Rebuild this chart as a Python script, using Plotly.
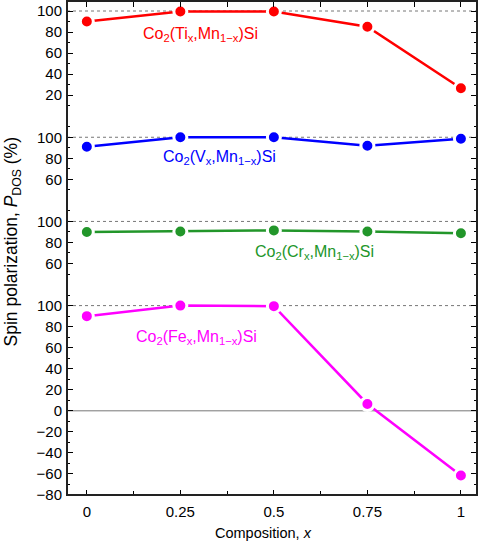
import plotly.graph_objects as go

x = [0, 0.25, 0.5, 0.75, 1]
ti = [90, 99.5, 99.5, 85, 26.5]
v = [91, 100, 100, 92, 98.5]
cr = [90, 90.5, 91.5, 90.5, 88.7]
fe = [90, 100, 99.5, 6.5, -61.5]

series = [
    ("Co<sub>2</sub>(Ti<sub>x</sub>,Mn<sub>1−x</sub>)Si", ti, "#ff0000"),
    ("Co<sub>2</sub>(V<sub>x</sub>,Mn<sub>1−x</sub>)Si", v, "#0000ff"),
    ("Co<sub>2</sub>(Cr<sub>x</sub>,Mn<sub>1−x</sub>)Si", cr, "#22962a"),
    ("Co<sub>2</sub>(Fe<sub>x</sub>,Mn<sub>1−x</sub>)Si", fe, "#ff00ff"),
]
# y-ranges per panel (top to bottom)
ranges = [[0, 109.5], [40, 120], [40, 120], [-80, 120]]
major_ticks = [
    [0, 20, 40, 60, 80, 100],
    [40, 60, 80, 100, 120],
    [40, 60, 80, 100, 120],
    [-80, -60, -40, -20, 0, 20, 40, 60, 80, 100, 120],
]
shown_labels = [
    [20, 40, 60, 80, 100],
    [60, 80, 100],
    [60, 80, 100],
    [-80, -60, -40, -20, 0, 20, 40, 60, 80, 100],
]
label_pos = [(0.305, 78), (0.354, 80.5), (0.608, 70.5), (0.292, 70)]

FONT = "Liberation Sans, Arial, sans-serif"

fig = go.Figure()

spans = [r[1] - r[0] for r in ranges]
total = sum(spans)
domains = []
top = 1.0
for s in spans:
    bottom = top - s / total
    domains.append([max(0.0, bottom), top])
    top = bottom
domains[-1][0] = 0.0

layout = dict(
    width=480, height=546,
    margin=dict(l=67, r=3, t=1, b=51),
    plot_bgcolor="white", paper_bgcolor="white",
    showlegend=False,
    font=dict(family=FONT, size=15, color="black"),
)


def fmt(t):
    return str(t).replace("-", "−")


axnames = ["y", "y2", "y3", "y4"]
for i, (name, vals, col) in enumerate(series):
    fig.add_trace(go.Scatter(
        x=x, y=vals, mode="lines+markers", xaxis="x", yaxis=axnames[i],
        line=dict(color=col, width=2.5),
        marker=dict(color=col, size=13, line=dict(color="white", width=3)),
        cliponaxis=False,
    ))
    key = "yaxis" if i == 0 else f"yaxis{i+1}"
    lo, hi = ranges[i]
    minor_vals = [m for m in range(int(lo), int(hi) + 1, 10) if m not in major_ticks[i]]
    layout[key] = dict(
        domain=domains[i], range=ranges[i], anchor="x",
        tickmode="array", tickvals=major_ticks[i],
        ticktext=[fmt(t) if t in shown_labels[i] else "" for t in major_ticks[i]],
        ticks="inside", ticklen=6, tickwidth=1, tickcolor="black",
        ticklabelstandoff=4,
        mirror="ticks", showline=False, showgrid=False, zeroline=False,
        minor=dict(tickmode="array", tickvals=minor_vals, ticks="inside",
                   ticklen=3, tickcolor="black", showgrid=False),
        tickfont=dict(size=15), fixedrange=True,
    )
    # dashed reference line at 100
    fig.add_shape(type="line", xref="paper", x0=0, x1=1, yref=axnames[i], y0=100, y1=100,
                  line=dict(color="#777777", width=1, dash="3px,3px"), layer="below")
    fig.add_annotation(x=label_pos[i][0], y=label_pos[i][1], xref="x", yref=axnames[i],
                       text=name, showarrow=False, font=dict(color=col, size=16, family=FONT))

# zero line in bottom panel
fig.add_shape(type="line", xref="paper", x0=0, x1=1, yref="y4", y0=0, y1=0,
              line=dict(color="#777777", width=1), layer="below")

xr = [-0.053, 1.043]
xmajor = [0, 0.25, 0.5, 0.75, 1]
xminor = [0.125, 0.375, 0.625, 0.875]
layout["xaxis"] = dict(
    range=xr, anchor="y4", domain=[0, 1],
    tickmode="array", tickvals=xmajor, ticktext=["0", "0.25", "0.5", "0.75", "1"],
    ticks="inside", ticklen=5, tickcolor="black", ticklabelstandoff=6,
    minor=dict(tickmode="array", tickvals=xminor, ticks="inside", ticklen=4, tickcolor="black"),
    showline=False, showgrid=False, zeroline=False,
    tickfont=dict(size=15), fixedrange=True,
)
layout["xaxis2"] = dict(
    range=xr, overlaying="x", side="top", anchor="free", position=1,
    tickmode="array", tickvals=xmajor + xminor, showticklabels=False,
    ticks="inside", ticklen=5, tickcolor="black",
    showline=False, showgrid=False, zeroline=False, fixedrange=True,
)
fig.add_trace(go.Scatter(x=[None], y=[None], xaxis="x2", yaxis="y", showlegend=False,
                         hoverinfo="skip"))

# frame
fig.add_shape(type="rect", xref="paper", yref="paper", x0=0, x1=1, y0=0, y1=1,
              line=dict(color="#222222", width=2), layer="above")

fig.add_annotation(xref="paper", yref="paper", x=-0.132, y=0.513, xanchor="center", yanchor="middle",
                   text="Spin polarization, <i>P</i><sub>DOS</sub> (%)", textangle=-90,
                   showarrow=False, font=dict(size=17.5))
fig.add_annotation(xref="paper", yref="paper", x=0.48, y=-0.077, xanchor="center", yanchor="middle",
                   text="Composition, <i>x</i>", showarrow=False, font=dict(size=14.5))

fig.update_layout(**layout)
fig.write_html("out.html")
